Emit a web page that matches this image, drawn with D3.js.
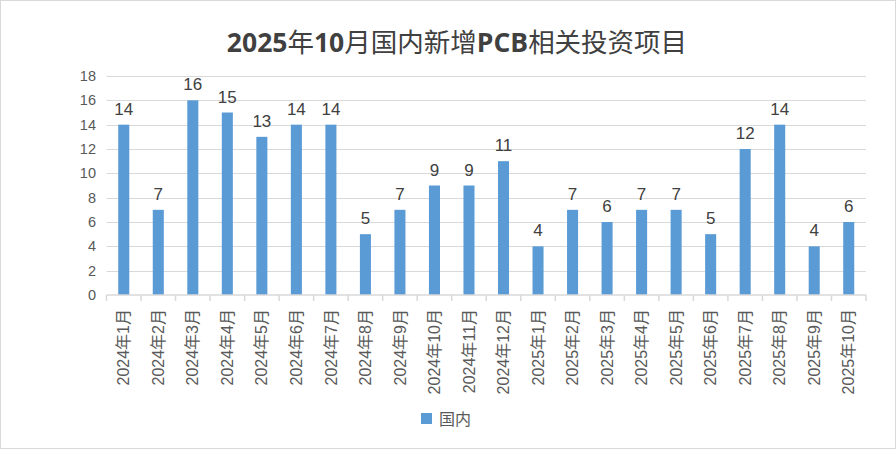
<!DOCTYPE html>
<html><head><meta charset="utf-8">
<script src="https://cdn.jsdelivr.net/npm/d3@7"></script>
<style>body{margin:0;background:#fff}svg{display:block}</style>
</head><body>
<script>
const categories = ["2024年1月","2024年2月","2024年3月","2024年4月","2024年5月","2024年6月","2024年7月","2024年8月","2024年9月","2024年10月","2024年11月","2024年12月","2025年1月","2025年2月","2025年3月","2025年4月","2025年5月","2025年6月","2025年7月","2025年8月","2025年9月","2025年10月"];
const values = [14,7,16,15,13,14,14,5,7,9,9,11,4,7,6,7,7,5,12,14,4,6];
const yTicks = [0,2,4,6,8,10,12,14,16,18];
const seriesName = "国内";
const title = "2025年10月国内新增PCB相关投资项目";

const W = 896, H = 449;
const font = "'Liberation Sans','Noto Sans CJK SC',sans-serif";
const svg = d3.select("body").append("svg").attr("width", W).attr("height", H);
svg.append("rect").attr("x",0.5).attr("y",0.5).attr("width",W-1).attr("height",H-1).attr("fill","#fff").attr("stroke","#d9d9d9");

const x = d3.scaleBand().domain(categories).range([106.5, 866]).paddingInner(0.68).paddingOuter(0.34);
const xb = d3.scaleBand().domain(categories).range([106.5, 866]);
const y = d3.scaleLinear().domain([0,18]).range([295, 76]);

// grid
svg.append("g").selectAll("line").data(yTicks.filter(d=>d>0)).join("line")
  .attr("x1",106.5).attr("x2",866).attr("y1",d=>Math.round(y(d))+0.5).attr("y2",d=>Math.round(y(d))+0.5)
  .attr("stroke","#d9d9d9").attr("stroke-width",1);

// y labels
svg.append("g").selectAll("text").data(yTicks).join("text")
  .attr("x",96).attr("y",d=>y(d)).attr("dy","0.35em").attr("text-anchor","end")
  .attr("font-family",font).attr("font-size",14.5).attr("fill","#595959").text(d=>d);

// bars
svg.append("g").selectAll("rect").data(values).join("rect")
  .attr("x",(d,i)=>x(categories[i])).attr("width",x.bandwidth())
  .attr("y",d=>y(d)).attr("height",d=>y(0)-y(d)).attr("fill","#5b9bd5");

// value labels
svg.append("g").selectAll("text").data(values).join("text")
  .attr("x",(d,i)=>x(categories[i])+x.bandwidth()/2).attr("y",d=>y(d)-10)
  .attr("text-anchor","middle").attr("font-family",font).attr("font-size",17).attr("fill","#404040").text(d=>d);

// x axis line & ticks
const ax = svg.append("g").attr("stroke","#d9d9d9").attr("stroke-width",1.5);
ax.append("line").attr("x1",106.5).attr("x2",866).attr("y1",295).attr("y2",295);
ax.selectAll("line.t").data(categories.concat(["__end"])).join("line").attr("class","t")
  .attr("x1",(d,i)=>106.5+i*xb.bandwidth()).attr("x2",(d,i)=>106.5+i*xb.bandwidth())
  .attr("y1",295).attr("y2",301);

// x labels
svg.append("g").selectAll("text").data(categories).join("text")
  .attr("transform",d=>`translate(${xb(d)+xb.bandwidth()/2},309) rotate(-90)`)
  .attr("dy","0.35em").attr("text-anchor","end")
  .attr("font-family",font).attr("font-size",16).attr("fill","#595959").text(d=>d);

// legend
svg.append("rect").attr("x",421).attr("y",413).attr("width",11).attr("height",11).attr("fill","#5b9bd5");
svg.append("text").attr("x",439).attr("y",419).attr("dy","0.35em").attr("font-family",font)
  .attr("font-size",16).attr("fill","#595959").text(seriesName);

// title
const t = svg.append("text").attr("x",457).attr("y",52).attr("text-anchor","middle")
  .attr("font-family",font).attr("font-size",26.5).attr("fill","#404040");
title.split(/([0-9A-Za-z]+)/).filter(s=>s.length).forEach(s=>{
  const latin = /^[0-9A-Za-z]+$/.test(s);
  t.append("tspan").attr("font-weight", latin ? "bold" : "normal")
   .attr("font-family", latin ? "'Open Sans','Liberation Sans',sans-serif" : "'Noto Sans CJK SC',sans-serif").text(s);
});
</script>
</body></html>
